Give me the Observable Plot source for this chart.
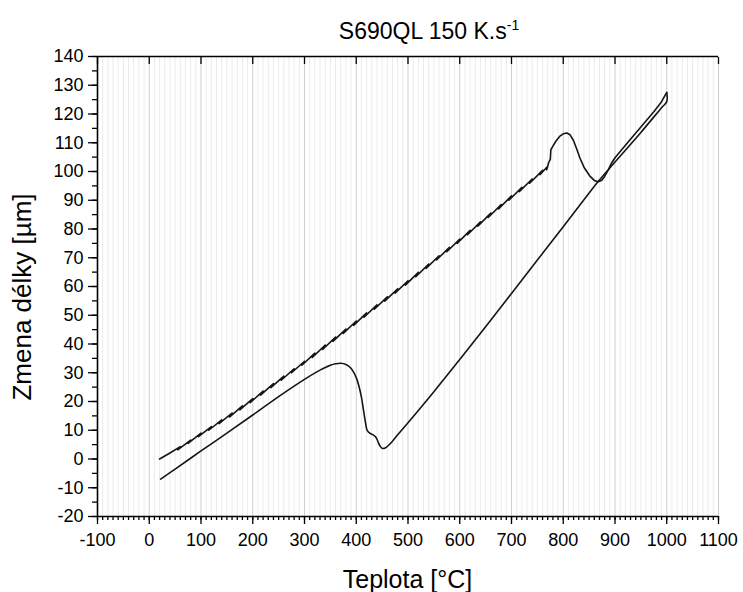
<!DOCTYPE html>
<html><head><meta charset="utf-8">
<script src="https://cdn.jsdelivr.net/npm/d3@7"></script>
<script src="https://cdn.jsdelivr.net/npm/@observablehq/plot@0.6"></script>
<style>
body{margin:0;background:#fff}
svg{font-family:"Liberation Sans",Arial,sans-serif}
</style>
</head><body><div id="chart"></div>
<script>
// Heating run: temperature [°C] and length change [µm] (with the recorder's sawtooth)
const heatT = [20,40,60,55,80,75,100,95,120,115,140,135,160,155,180,175,200,195,220,215,240,235,260,255,280,275,300,295,320,315,340,335,360,355,380,375,400,395,420,415,440,435,460,455,480,475,500,495,520,515,540,535,560,555,580,575,600,595,620,615,640,635,660,655,680,675,700,695,720,715,740,735,760,755,770,768,772,775,776,780,786,793,800,807,813,820,826,832,840,851,860,867,874,880,887,893,900,925,950,975,990,1000];
const heatL = [0,2.1,4.3,3.2,6.6,5.4,9.0,7.8,11.3,10.0,13.6,12.3,16.0,14.6,18.5,17.1,21.0,19.6,23.6,22.2,26.2,24.8,28.8,27.4,31.4,30.0,34.0,32.6,36.8,35.3,39.6,38.1,42.4,40.9,45.2,43.7,48.0,46.5,50.8,49.3,53.6,52.1,56.4,54.9,59.2,57.7,62.0,60.5,64.9,63.4,67.8,66.3,70.7,69.2,73.6,72.1,76.5,75.0,79.5,78.0,82.5,81.0,85.5,84.0,88.5,87.0,91.5,90.0,94.5,93.0,97.4,95.9,100.4,98.9,101.8,100.6,103.2,104.2,107.5,108.8,110.6,112.2,113.1,113.4,112.8,110.7,107.8,104.8,101.5,98.5,96.9,96.4,96.9,98.3,100.6,102.8,104.8,110.2,115.5,120.8,124.3,127.5];
// Cooling run
const coolT = [1000,1000,990,950,900,867,850,800,750,700,650,600,550,500,480,470,462,456,450,446,442,438,432,426,421,418,414,410,405,400,394,388,380,370,360,350,330,300,250,200,150,100,50,22];
const coolL = [127.5,124.3,122.2,113.6,103.3,96.4,92.5,80.8,69.2,57.6,46.0,34.6,23.4,12.6,8.4,6.2,4.7,3.8,3.7,4.5,6.0,7.6,8.5,9.0,10.0,12.5,17.0,21.5,25.5,28.3,30.5,31.9,32.9,33.3,33.1,32.6,30.9,27.7,21.7,15.3,9.0,2.8,-3.5,-7.0];

const xTicks = [-100,0,100,200,300,400,500,600,700,800,900,1000,1100];
const yTicks = [-20,-10,0,10,20,30,40,50,60,70,80,90,100,110,120,130,140];
const xMinor = d3.range(-100, 1101, 10);
const yMinor = d3.range(-20, 141, 5);

const heating = heatT.map((t, i) => ({t, l: heatL[i]}));
const cooling = coolT.map((t, i) => ({t, l: coolL[i]}));

const W = 743, H = 592, ML = 97, MR = 25, MT = 56, MB = 76;
const fmt = d => String(d);

const chart = Plot.plot({
  width: W, height: H,
  marginLeft: ML, marginRight: MR, marginTop: MT, marginBottom: MB,
  style: {fontSize: "18px", fontFamily: "'Liberation Sans', Arial, sans-serif", background: "#fff", color: "#000"},
  x: {domain: [-100, 1100]},
  y: {domain: [-20, 140]},
  marks: [
    Plot.ruleX(xMinor, {stroke: d => d % 100 === 0 ? "#cfcfcf" : "#ebebeb", strokeWidth: 1}),
    Plot.line(heating, {x: "t", y: "l", stroke: "#151515", strokeWidth: 1.6}),
    Plot.line(cooling, {x: "t", y: "l", stroke: "#151515", strokeWidth: 1.6, curve: "catmull-rom"}),
    Plot.axisY({ticks: yTicks, tickSize: 9, tickPadding: 5, tickFormat: fmt, label: null, strokeWidth: 1.3}),
    Plot.axisY({ticks: yMinor, tickSize: 5, tickFormat: () => "", label: null, strokeWidth: 1.3}),
    Plot.axisX({ticks: xTicks, tickSize: 8, tickPadding: 9, tickFormat: fmt, label: null, strokeWidth: 1.3}),
    Plot.axisX({ticks: xMinor, tickSize: 4, tickFormat: () => "", label: null, strokeWidth: 1.3}),
    Plot.axisX({anchor: "top", ticks: xTicks, tickSize: -7, tickFormat: () => "", label: null, strokeWidth: 1.3}),
    Plot.ruleX([-100], {stroke: "#000", strokeWidth: 1.6}),
    Plot.ruleY([-20], {stroke: "#000", strokeWidth: 1.6}),
    Plot.ruleY([140], {stroke: "#000", strokeWidth: 1.6})
  ]
});

document.getElementById("chart").appendChild(chart);
const svg = d3.select(chart);

const title = svg.append("text")
  .attr("x", 429).attr("y", 39).attr("text-anchor", "middle")
  .style("font-size", "23px").attr("fill", "#000")
  .text("S690QL 150 K.s");
title.append("tspan").attr("dy", -9).style("font-size", "14px").text("-1");

svg.append("text")
  .attr("x", (ML + W - MR) / 2).attr("y", 588).attr("text-anchor", "middle")
  .style("font-size", "25px").attr("fill", "#000")
  .text("Teplota [°C]");

svg.append("text")
  .attr("transform", `translate(31,${(MT + H - MB) / 2 + 11}) rotate(-90)`)
  .attr("text-anchor", "middle")
  .style("font-size", "26px").attr("fill", "#000")
  .text("Zmena délky [µm]");
</script>
</body></html>
